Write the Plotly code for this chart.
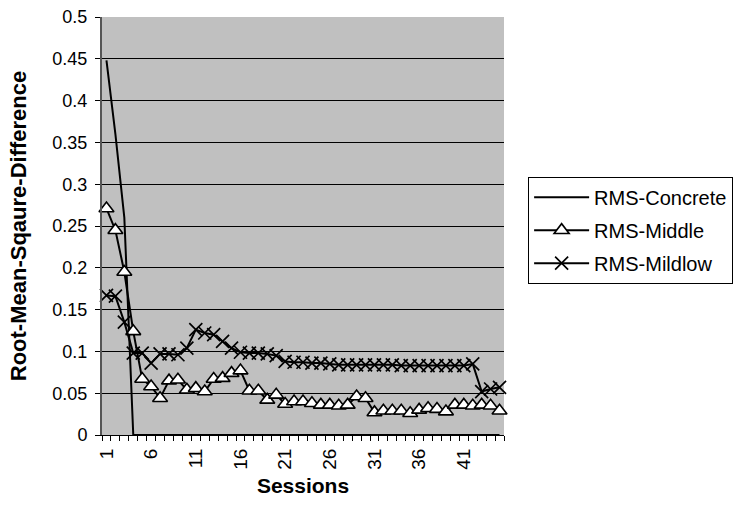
import plotly.graph_objects as go

sessions = list(range(1, 46))

rms_concrete = [0.448, 0.36, 0.26] + [0.0] * 42

rms_middle = [0.271, 0.245, 0.195, 0.124, 0.067, 0.058, 0.044, 0.065, 0.066, 0.054,
              0.056, 0.052, 0.067, 0.068, 0.074, 0.077, 0.053, 0.053, 0.042, 0.048,
              0.037, 0.040, 0.040, 0.038, 0.036, 0.036, 0.035, 0.036, 0.046, 0.044,
              0.027, 0.029, 0.029, 0.029, 0.026, 0.030, 0.032, 0.031, 0.028, 0.036,
              0.036, 0.035, 0.036, 0.035, 0.029]

rms_mildlow = [0.167, 0.166, 0.135, 0.098, 0.098, 0.086, 0.097, 0.097, 0.096, 0.104,
               0.126, 0.122, 0.120, 0.112, 0.104, 0.099, 0.098, 0.098, 0.097, 0.095,
               0.088, 0.087, 0.087, 0.086, 0.086, 0.085, 0.084, 0.084, 0.084, 0.084,
               0.084, 0.084, 0.084, 0.083, 0.083, 0.083, 0.083, 0.083, 0.083, 0.083,
               0.083, 0.085, 0.052, 0.055, 0.057]

x_tick_labels = [str(v) for v in range(1, 46, 5)]
y_ticks = [round(i * 0.05, 2) for i in range(11)]

font_family = "Liberation Sans, Arial, sans-serif"

fig = go.Figure()
fig.add_trace(go.Scatter(
    x=sessions, y=rms_concrete, name="RMS-Concrete", mode="lines",
    line=dict(color="black", width=2), cliponaxis=False, legendgroup="a"))
fig.add_trace(go.Scatter(
    x=sessions, y=rms_middle, name="RMS-Middle", mode="lines+markers",
    line=dict(color="black", width=2),
    marker=dict(symbol="triangle-up", size=13, color="white",
                line=dict(color="black", width=1.6)),
    cliponaxis=False, legendgroup="b"))
fig.add_trace(go.Scatter(
    x=sessions, y=rms_mildlow, name="RMS-Mildlow", mode="lines+markers",
    line=dict(color="black", width=2),
    marker=dict(symbol="x-thin", size=13, color="black",
                line=dict(color="black", width=1.7)),
    cliponaxis=False, legendgroup="c"))

fig.update_layout(
    width=736, height=508,
    margin=dict(l=102, r=232, t=17, b=73, autoexpand=False),
    paper_bgcolor="white", plot_bgcolor="#c0c0c0",
    font=dict(family=font_family, size=18, color="black"),
    showlegend=True,
    legend=dict(x=1.06, y=0.618, xanchor="left", yanchor="top",
                bgcolor="white", bordercolor="black", borderwidth=1,
                font=dict(size=20), tracegroupgap=4, itemwidth=55),
    xaxis=dict(
        range=[0.5, 45.5], tickmode="array",
        tickvals=list(range(1, 46, 5)), ticktext=x_tick_labels,
        tickangle=-90, ticks="", showgrid=False, zeroline=False,
        showline=True, linecolor="black", linewidth=1,
        ticklabelstandoff=5,
        minor=dict(tickmode="linear", tick0=0.5, dtick=1, ticks="outside",
                   ticklen=5, tickcolor="black", showgrid=False),
        title=dict(text="<b>Sessions</b>", font=dict(size=21), standoff=9),
        tickfont=dict(size=19)),
    yaxis=dict(
        range=[0, 0.5], tickmode="array", tickvals=y_ticks,
        ticktext=[f"{v:g}" for v in y_ticks],
        ticks="outside", ticklen=5, tickcolor="black",
        ticklabelstandoff=4,
        showgrid=True, gridcolor="black", gridwidth=1, zeroline=False,
        showline=True, linecolor="#555555", linewidth=2,
        title=dict(text="<b>Root-Mean-Sqaure-Difference</b>", font=dict(size=22), standoff=20),
        tickfont=dict(size=18)),
)

fig.write_html("out.html")
